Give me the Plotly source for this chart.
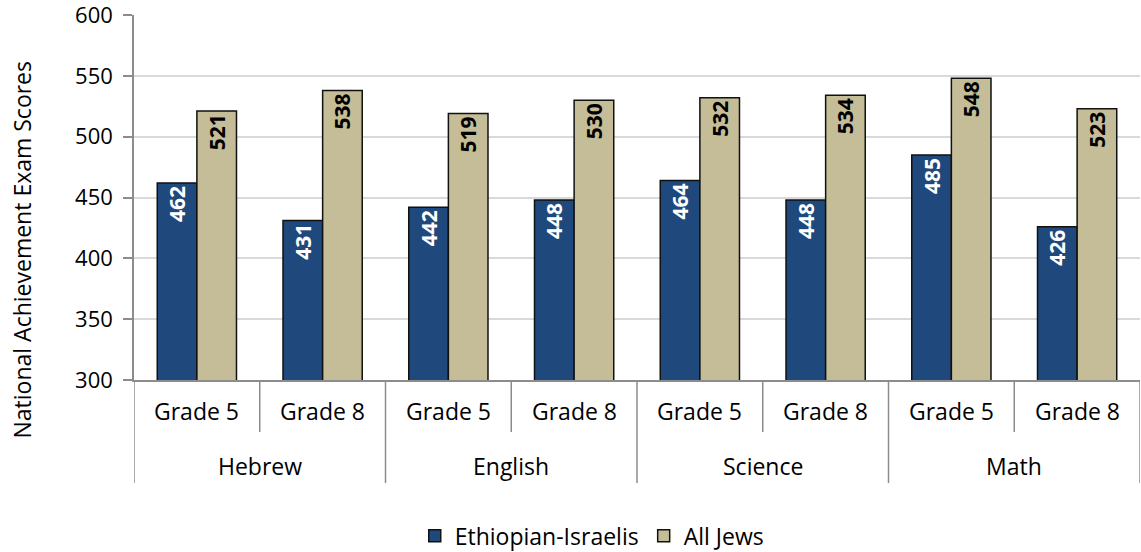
import plotly.graph_objects as go

subjects = ["Hebrew", "Hebrew", "English", "English", "Science", "Science", "Math", "Math"]
grades = ["Grade 5", "Grade 8"] * 4
ethiopian = [462, 431, 442, 448, 464, 448, 485, 426]
all_jews = [521, 538, 519, 530, 532, 534, 548, 523]
y_ticks = [300, 350, 400, 450, 500, 550, 600]

FONT = "Open Sans"
GREY = "#8C8C8C"
idx = list(range(len(grades)))

fig = go.Figure()
fig.add_trace(go.Bar(
    x=idx, y=ethiopian, name="Ethiopian-Israelis",
    marker=dict(color="#1F497D", line=dict(color="#111111", width=1.5)),
    text=ethiopian, textposition="inside", insidetextanchor="end", textangle=-90,
    textfont=dict(color="white", size=21, family=FONT, weight="bold"),
    constraintext="none",
))
fig.add_trace(go.Bar(
    x=idx, y=all_jews, name="All Jews",
    marker=dict(color="#C4BD97", line=dict(color="#111111", width=1.5)),
    text=all_jews, textposition="inside", insidetextanchor="end", textangle=-90,
    textfont=dict(color="black", size=21, family=FONT, weight="bold"),
    constraintext="none",
))

annotations = []
shapes = []
# grade labels
for i, g in zip(idx, grades):
    annotations.append(dict(x=i, y=0, xref="x", yref="paper", yshift=-31, text=g,
                            showarrow=False, font=dict(size=23), yanchor="middle"))
# subject labels and dividers
groups = []
for i, s in zip(idx, subjects):
    if not groups or groups[-1][0] != s:
        groups.append([s, [i]])
    else:
        groups[-1][1].append(i)
for s, members in groups:
    annotations.append(dict(x=sum(members) / len(members), y=0, xref="x", yref="paper",
                            yshift=-86, text=s, showarrow=False, font=dict(size=23),
                            yanchor="middle"))
boundaries_major = [groups[0][1][0] - 0.5] + [m[-1] + 0.5 for _, m in groups]
for b in [i - 0.5 for i in idx] + [idx[-1] + 0.5]:
    if b not in boundaries_major:
        shapes.append(dict(type="line", xref="x", yref="paper", ysizemode="pixel", yanchor=0,
                           x0=b, x1=b, y0=0, y1=-52, line=dict(color=GREY, width=1.5)))
for b in boundaries_major:
    shapes.append(dict(type="line", xref="x", yref="paper", ysizemode="pixel", yanchor=0,
                       x0=b, x1=b, y0=0, y1=-103, line=dict(color=GREY, width=1.5)))
# y title
annotations.append(dict(x=0, y=0.5, xref="paper", yref="paper", xshift=-113, yshift=-52,
                        text="National Achievement Exam Scores", textangle=-90,
                        showarrow=False, font=dict(size=23), xanchor="center"))

fig.update_layout(
    width=1141, height=552,
    margin=dict(l=134, r=1, t=15, b=172, autoexpand=False),
    paper_bgcolor="white", plot_bgcolor="white",
    barmode="group", bargap=0.37, bargroupgap=0,
    font=dict(family=FONT, size=22, color="black"),
    legend=dict(orientation="h", x=0.455, xanchor="center", y=-0.427, yanchor="middle",
                font=dict(size=23), itemwidth=30, tracegroupgap=0),
    showlegend=True,
    annotations=annotations, shapes=shapes,
)
fig.update_yaxes(
    range=[300, 600], tickvals=y_ticks, showgrid=True, gridcolor="#D9D9D9", gridwidth=1.5,
    showline=True, linecolor=GREY, linewidth=1.5, ticks="outside", ticklen=9,
    tickcolor=GREY, tickwidth=1.5, tickfont=dict(size=22), automargin=False, zeroline=False,
    ticklabeloverflow="allow", ticklabelstandoff=6,
)
fig.update_xaxes(
    range=[-0.5, len(idx) - 0.5], showticklabels=False, showgrid=False, zeroline=False,
    showline=True, linecolor=GREY, linewidth=1.5, ticks="", automargin=False,
)

fig.write_html("out.html", config={"displayModeBar": False})
with open("out.html", encoding="utf-8") as f:
    html = f.read()
html = html.replace("<head>", "<head><style>html,body{margin:0;padding:0;}</style>", 1)
with open("out.html", "w", encoding="utf-8") as f:
    f.write(html)
